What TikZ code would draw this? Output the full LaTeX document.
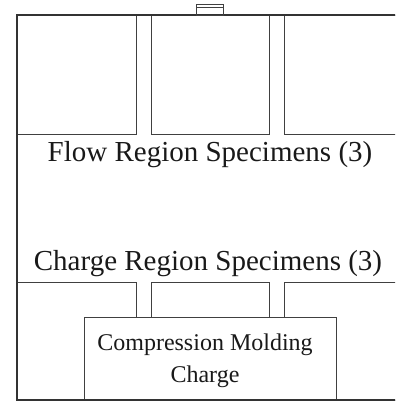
\documentclass[tikz,border=0pt]{standalone}
\usepackage{fontspec}
\setmainfont{Liberation Serif}
\usepackage{tikz}

\begin{document}
\begin{tikzpicture}[x=1pt, y=-1pt,
    specimen/.style={draw=black!75, line width=0.8pt, rectangle, inner sep=0pt, anchor=north west, minimum width=118pt, minimum height=119pt},
    plate/.style={draw=black!80, line width=1.3pt},
    biglabel/.style={anchor=base, font=\fontsize{29}{35}\selectfont, text=black!90}]
            \useasboundingbox (0,0) rectangle (395,403);
            \clip (0,0) rectangle (395,403);
            % flow region specimens (top row)
            \node[specimen, minimum width=119pt] (flow1) at (17,15) {};
            \node[specimen] (flow2) at (151,15) {};
            \node[specimen] (flow3) at (284,15) {};
            % charge region specimens (bottom row)
            \node[specimen, minimum width=119pt, minimum height=118pt] (charge1) at (17,282) {};
            \node[specimen, minimum height=118pt] (charge2) at (151,282) {};
            \node[specimen, minimum height=118pt] (charge3) at (284,282) {};
            % the charge laid on top
            \node[draw=black!75, line width=0.8pt, fill=white, rectangle, inner sep=0pt, anchor=north west, minimum width=252pt, minimum height=83pt] (molding) at (84,317) {};
            \node[align=center, font=\fontsize{24}{32}\selectfont, text=black!90] (moldtext) at (205,361) {Compression Molding\\Charge};
            % plate edges and gate
            \draw[plate] (400,15) -- (17,15) -- (17,400) -- (400,400);
            \draw[draw=black!75, line width=0.7pt] (196,15) rectangle (223,4);
            \draw[draw=black!75, line width=0.7pt] (196,7) -- (223,7);
            % labels
            \node[biglabel] (flowlabel) at (210,162) {Flow Region Specimens (3)};
            \node[biglabel] (chargelabel) at (208,270) {Charge Region Specimens (3)};
\end{tikzpicture}
\end{document}
